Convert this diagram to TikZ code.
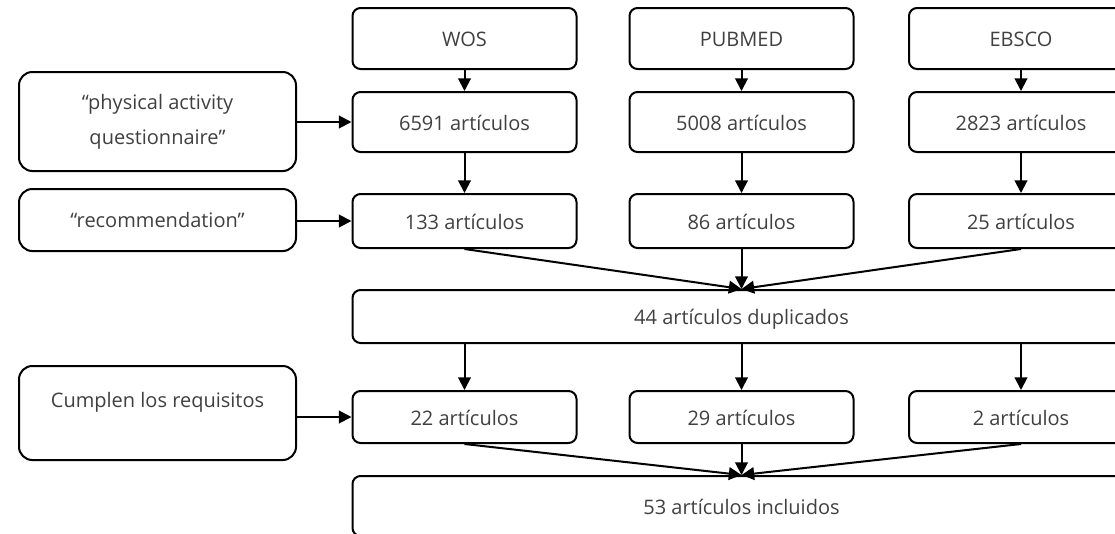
\documentclass[tikz,border=0pt]{standalone}
\usepackage{fontspec}
\setmainfont{Open Sans}
\usetikzlibrary{arrows.meta,positioning,calc}
\definecolor{ink}{RGB}{64,64,64}

\begin{document}
\begin{tikzpicture}[x=0.75pt,y=-0.75pt,
    font=\fontsize{15}{26}\selectfont,
    box/.style={draw,line width=1.5pt,rounded corners=6pt,text=ink,minimum width=168pt,text height=1.2em,text depth=0pt},
    side/.style={draw,line width=1.5pt,rounded corners=10pt,text=ink,minimum width=207.75pt,align=center},
    arr/.style={line width=1.5pt,-{Triangle[length=9.5pt,width=9.5pt]}}]
  \useasboundingbox (0,0) rectangle (1115,533);
  \clip (0,0) rectangle (1115,533);
  % una columna por base de datos
  \foreach \n/\x/\db/\a/\b/\c in {w/464.5/WOS/6591/133/22,p/741.5/PUBMED/5008/86/29,e/1021/EBSCO/2823/25/2}{
    \node[box,minimum height=45.75pt] (\n0) at (\x,38.5) {\db};
    \node[box,minimum height=45pt] (\n1) at (\x,122) {\a\ artículos};
    \node[box,minimum height=40.5pt] (\n2) at (\x,221) {\b\ artículos};
    \node[box,minimum height=39pt] (\n3) at (\x,417) {\c\ artículos};
    \draw[arr] (\n0) -- (\n1);
    \draw[arr] (\n1) -- (\n2);
  }
  \node[box,minimum width=583.5pt,minimum height=39.75pt] (dup) at (741.5,316.5) {44 artículos duplicados};
  \node[box,minimum width=583.5pt,minimum height=45pt] (inc) at (741.5,506) {53 artículos incluidos};
  \foreach \n in {w,p,e}{
    \draw[arr] (\n2.south) -- (dup.north);
    \draw[arr] (dup.south -| \n3.north) -- (\n3.north);
    \draw[arr] (\n3.south) -- (inc.north);
  }
  % terminos y criterios
  \node[side,minimum height=74.25pt] (kw1) at (157.5,121.5) {“physical activity\\questionnaire”};
  \node[side,minimum height=46.5pt] (kw2) at (157.5,220) {“recommendation”};
  \node[side,minimum height=70.5pt,text depth=19pt] (req) at (157.5,413) {Cumplen los requisitos};
  \draw[arr] (kw1.east |- w1.west) -- (w1.west);
  \draw[arr] (kw2.east |- w2.west) -- (w2.west);
  \draw[arr] (req.east |- w3.west) -- (w3.west);
\end{tikzpicture}
\end{document}
